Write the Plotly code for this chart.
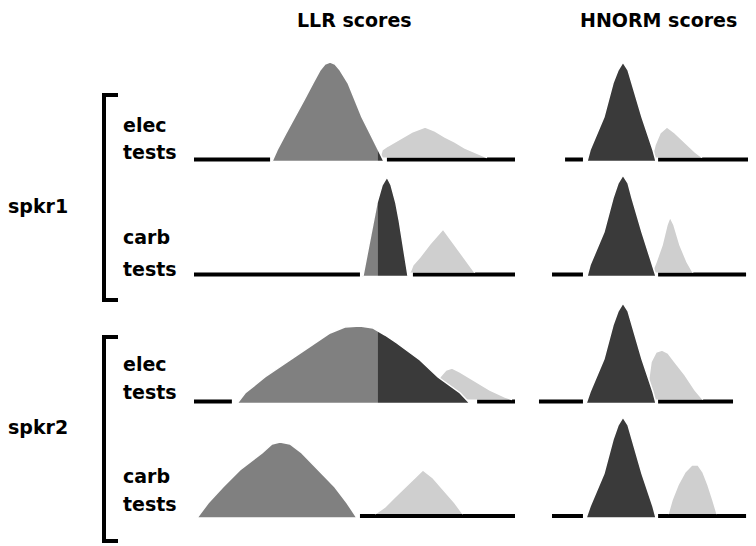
import plotly.graph_objects as go

W, H = 756, 546

# ---------------- data (score units 0-100 per panel, density height units) ----------------
llr_threshold = 57.3      # LLR: target mass below threshold drawn medium grey, above drawn dark
hnorm_threshold = 0.0

# Row 1: spkr1 / elec tests
r1_llr_tgt_x = [24.3, 25.9, 28.7, 31.5, 34.3, 37.1, 39.3, 40.8, 42.4, 43.9, 45.5, 48.0, 50.2, 52.3, 54.8, 57.3, 59.2]
r1_llr_tgt_y = [-2, 9.5, 26.5, 42.5, 59.5, 76.5, 89.5, 95.5, 97.5, 95.5, 89.5, 76.5, 59.5, 42.5, 26.5, 9.5, -2]
r1_llr_imp_x = [57.9, 58.6, 60.4, 64.2, 67.9, 72.0, 75.1, 78.2, 81.3, 84.4, 87.9, 91.3]
r1_llr_imp_y = [2, 9.5, 13.5, 20.5, 27.5, 32.5, 28.5, 22.5, 17.5, 11.5, 6.5, 2]
r1_llr_axis = [[0, 23.7], [60.1, 100]]
r1_hn_tgt_x = [23.5, 24.9, 31.2, 35.3, 37.6, 39.8, 42.1, 43.9, 48.4, 53.4, 54.8]
r1_hn_tgt_y = [-2, 9.5, 42.5, 76.5, 89.5, 97.5, 89.5, 76.5, 42.5, 9.5, -2]
r1_hn_imp_x = [52.9, 54.3, 56.6, 59.7, 63.3, 67.9, 72.4, 75.6]
r1_hn_imp_y = [2, 14.5, 26.5, 32.5, 26.5, 16.5, 7.5, 2]
r1_hn_axis = [[13.6, 21.7], [55.7, 100]]

# Row 2: spkr1 / carb tests
r2_llr_tgt_x = [52.6, 53.3, 54.8, 56.1, 57.0, 58.6, 60.1, 61.4, 62.9, 63.9, 64.8, 65.7, 66.7]
r2_llr_tgt_y = [-2, 9.5, 34.5, 54.5, 71.5, 89.5, 97.5, 89.5, 71.5, 54.5, 37.5, 19.5, -2]
r2_llr_imp_x = [67.3, 68.2, 70.4, 73.5, 77.6, 80.4, 83.5, 86.0, 87.5]
r2_llr_imp_y = [2, 9.5, 17.5, 30.5, 45.5, 33.5, 19.5, 8.5, 2]
r2_llr_axis = [[0, 51.7], [68.2, 100]]
r2_hn_tgt_x = [23.5, 24.9, 31.2, 35.3, 37.6, 39.8, 42.1, 43.9, 48.4, 53.4, 54.8]
r2_hn_tgt_y = [-2, 9.5, 42.5, 76.5, 91.5, 99.5, 91.5, 76.5, 42.5, 9.5, -2]
r2_hn_imp_x = [52.9, 54.8, 57.5, 59.7, 61.1, 62.9, 65.6, 68.8, 71.5]
r2_hn_imp_y = [2, 12.5, 29.5, 49.5, 57.5, 49.5, 29.5, 12.5, 2]
r2_hn_axis = [[7.7, 21.7], [55.7, 95.5]]

# Row 3: spkr2 / elec tests
r3_llr_tgt_x = [13.4, 15.9, 22.1, 29.9, 37.7, 42.4, 47.0, 51.7, 55.8, 59.5, 63.2, 70.4, 76.0, 82.9, 86.0]
r3_llr_tgt_y = [-2, 8.5, 24.5, 41.5, 58.5, 68.5, 74.5, 75.5, 73.5, 66.5, 58.5, 41.5, 24.5, 8.5, -2]
r3_llr_imp_x = [75.4, 76.6, 78.5, 80.4, 82.9, 87.5, 92.2, 96.9, 99.1]
r3_llr_imp_y = [2, 24.5, 31.5, 33.5, 29.5, 20.5, 11.5, 4.5, 2]
r3_llr_axis = [[0, 11.8], [88.2, 100]]
r3_hn_tgt_x = [23.1, 24.9, 31.2, 35.3, 37.6, 39.8, 42.1, 43.9, 48.4, 53.4, 54.8]
r3_hn_tgt_y = [-2, 9.5, 42.5, 76.5, 90.5, 98.5, 90.5, 76.5, 42.5, 9.5, -2]
r3_hn_imp_x = [50.7, 51.1, 52.5, 54.8, 57.5, 60.2, 63.3, 67.9, 72.4, 76.0]
r3_hn_imp_y = [2, 16.5, 39.5, 49.5, 51.5, 48.5, 39.5, 26.5, 11.5, 2]
r3_hn_axis = [[1.8, 21.7], [55.7, 89.6]]

# Row 4: spkr2 / carb tests
r4_llr_tgt_x = [0.9, 3.4, 4.4, 9.0, 14.3, 21.2, 24.3, 26.8, 29.9, 33.6, 38.6, 43.9, 47.7, 50.8]
r4_llr_tgt_y = [-2, 8, 13, 29, 46, 63, 72, 74, 72, 63, 46, 29, 13, -2]
r4_llr_imp_x = [56.4, 59.5, 62.6, 67.3, 71.3, 74.5, 78.2, 81.3, 83.8]
r4_llr_imp_y = [2, 9, 19, 34, 46, 38, 24, 13, 2]
r4_llr_axis = [[51.7, 100]]
r4_hn_tgt_x = [23.1, 24.9, 31.2, 35.3, 37.6, 39.8, 42.1, 43.9, 48.4, 53.4, 54.8]
r4_hn_tgt_y = [-2, 9.5, 42.5, 76.5, 91, 99, 91, 76.5, 42.5, 9.5, -2]
r4_hn_imp_x = [60.2, 62.0, 64.7, 67.9, 71.0, 73.8, 76.0, 78.3, 80.5, 82.4]
r4_hn_imp_y = [2, 16, 31, 44, 51, 51, 44, 31, 16, 2]
r4_hn_axis = [[7.7, 21.7], [55.7, 95.5]]

panel_titles = ["LLR scores", "HNORM scores"]
speakers = ["spkr1", "spkr2"]
row_labels = [("elec", "tests"), ("carb", "tests"), ("elec", "tests"), ("carb", "tests")]

rows = [
    dict(llr=(r1_llr_tgt_x, r1_llr_tgt_y, r1_llr_imp_x, r1_llr_imp_y, r1_llr_axis),
         hn=(r1_hn_tgt_x, r1_hn_tgt_y, r1_hn_imp_x, r1_hn_imp_y, r1_hn_axis)),
    dict(llr=(r2_llr_tgt_x, r2_llr_tgt_y, r2_llr_imp_x, r2_llr_imp_y, r2_llr_axis),
         hn=(r2_hn_tgt_x, r2_hn_tgt_y, r2_hn_imp_x, r2_hn_imp_y, r2_hn_axis)),
    dict(llr=(r3_llr_tgt_x, r3_llr_tgt_y, r3_llr_imp_x, r3_llr_imp_y, r3_llr_axis),
         hn=(r3_hn_tgt_x, r3_hn_tgt_y, r3_hn_imp_x, r3_hn_imp_y, r3_hn_axis)),
    dict(llr=(r4_llr_tgt_x, r4_llr_tgt_y, r4_llr_imp_x, r4_llr_imp_y, r4_llr_axis),
         hn=(r4_hn_tgt_x, r4_hn_tgt_y, r4_hn_imp_x, r4_hn_imp_y, r4_hn_axis)),
]

# ---------------- styling / layout ----------------
MEDIUM = "#808080"
DARK = "#3a3a3a"
LIGHT = "#cfcfcf"
FONT = dict(family="DejaVu Sans, Arial", size=19, color="black", weight="bold")
TITLE_FONT = dict(family="DejaVu Sans, Arial", size=19, color="black", weight="bold")

OFF = 8  # page body margin of the html page


def X(p):
    return (p - OFF) / W


def Y(p):
    return 1 - (p - OFF) / H


baselines_px = [159.5, 274.5, 401.5, 516]
llr_dom_px = (194, 515)
hn_dom_px = (535, 756)


def clip_left(xs, ys, t):
    """Part of the outline left of t (closed to the base)."""
    px, py = [], []
    for i in range(len(xs)):
        if xs[i] <= t:
            px.append(xs[i]); py.append(ys[i])
        else:
            if i > 0 and xs[i - 1] < t:
                f = (t - xs[i - 1]) / (xs[i] - xs[i - 1])
                px.append(t); py.append(ys[i - 1] + f * (ys[i] - ys[i - 1]))
            break
    if px:
        px.append(px[-1]); py.append(ys[0])
    return px, py


fig = go.Figure()

for r, row in enumerate(rows):
    yref = "y" if r == 0 else f"y{r + 1}"
    for key, xref, thr in (("llr", "x", llr_threshold), ("hn", "x2", hnorm_threshold)):
        tx, ty, ix, iy, axis = row[key]
        for a, b in axis:
            fig.add_trace(go.Scatter(x=[a, b], y=[0, 0], mode="lines",
                                     line=dict(color="black", width=4),
                                     xaxis=xref, yaxis=yref, hoverinfo="skip"))
        fig.add_trace(go.Scatter(x=ix, y=iy, fill="toself", fillcolor=LIGHT, mode="lines",
                                 line=dict(color="white", width=1.5),
                                 xaxis=xref, yaxis=yref, hoverinfo="skip"))
        fig.add_trace(go.Scatter(x=tx, y=ty, fill="toself", fillcolor=DARK, mode="lines",
                                 line=dict(color="white", width=0),
                                 xaxis=xref, yaxis=yref, hoverinfo="skip"))
        lx, ly = clip_left(tx, ty, thr)
        if len(lx) > 2:
            fig.add_trace(go.Scatter(x=lx, y=ly, fill="toself", fillcolor=MEDIUM, mode="lines",
                                     line=dict(color=MEDIUM, width=0),
                                     xaxis=xref, yaxis=yref, hoverinfo="skip"))
        fig.add_trace(go.Scatter(x=tx + [tx[0]], y=ty + [ty[0]], mode="lines",
                                 line=dict(color="white", width=1.5),
                                 xaxis=xref, yaxis=yref, hoverinfo="skip"))

layout = dict(
    width=W, height=H, margin=dict(l=0, r=0, t=0, b=0),
    paper_bgcolor="white", plot_bgcolor="rgba(0,0,0,0)", showlegend=False,
    xaxis=dict(domain=[X(llr_dom_px[0]), X(llr_dom_px[1])], range=[0, 100], visible=False),
    xaxis2=dict(domain=[X(hn_dom_px[0]), min(1, X(hn_dom_px[1]))],
                range=[0, 100 * (min(1, X(hn_dom_px[1])) - X(hn_dom_px[0])) / (X(hn_dom_px[1]) - X(hn_dom_px[0]))],
                visible=False, anchor="y"),
)
for r, b in enumerate(baselines_px):
    name = "yaxis" if r == 0 else f"yaxis{r + 1}"
    layout[name] = dict(domain=[Y(b + 10), Y(b - 100)], range=[-10, 100],
                        visible=False, anchor="x")
fig.update_layout(**layout)

ann = []
for title, cx in zip(panel_titles, (354, 658)):
    ann.append(dict(text=title, x=X(cx), y=1.0, xref="paper", yref="paper",
                    xanchor="center", yanchor="top", borderpad=0, showarrow=False,
                    font=TITLE_FONT))
label_y = [(125, 152), (237, 269), (364, 392), (476, 504)]
for (l1, l2), (y1, y2) in zip(row_labels, label_y):
    for t, yy in ((l1, y1), (l2, y2)):
        ann.append(dict(text=t, x=X(121), y=Y(yy), xref="paper", yref="paper",
                        xanchor="left", yanchor="middle", showarrow=False, font=FONT))
spk_y = [206, 427]
brackets = [(95, 300), (337, 541)]
shapes = []
for s, yy, (top, bot) in zip(speakers, spk_y, brackets):
    ann.append(dict(text=s, x=X(6), y=Y(yy), xref="paper", yref="paper",
                    xanchor="left", yanchor="middle", showarrow=False, font=FONT))
    shapes.append(dict(type="path", xref="paper", yref="paper",
                       path=f"M {X(118)},{Y(top)} L {X(104)},{Y(top)} "
                            f"L {X(104)},{Y(bot)} L {X(118)},{Y(bot)}",
                       line=dict(color="black", width=4)))
fig.update_layout(annotations=ann, shapes=shapes)

fig.write_html("out.html")
